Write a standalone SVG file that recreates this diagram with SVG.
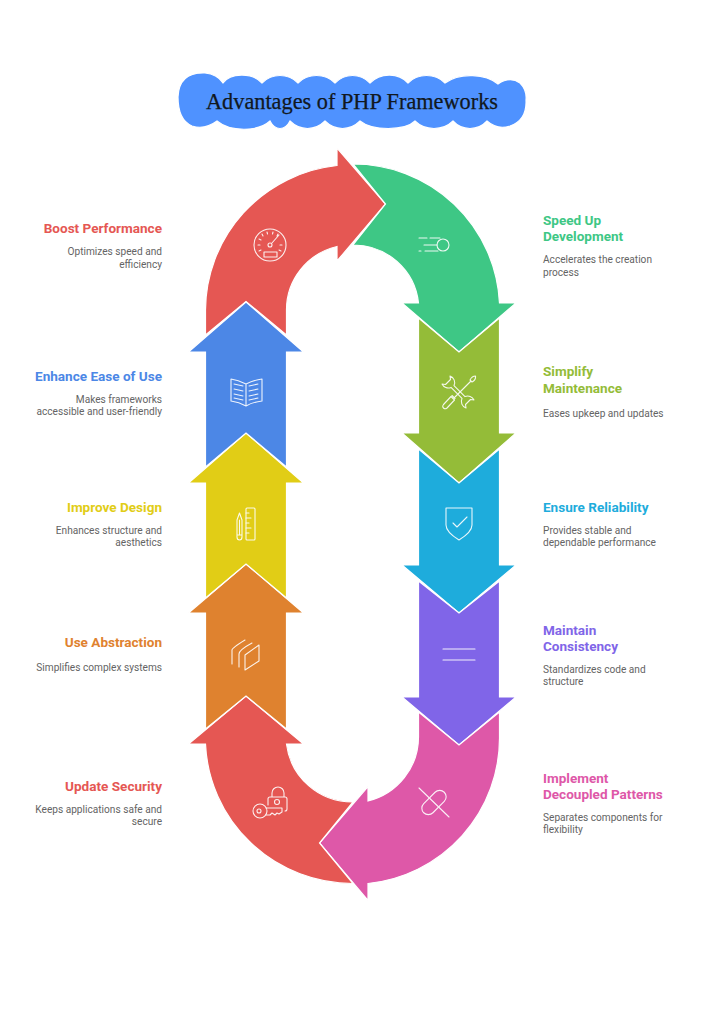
<svg xmlns="http://www.w3.org/2000/svg" width="705" height="1024" viewBox="0 0 705 1024">
<style>
text{font-family:Roboto,"Liberation Sans",sans-serif}
.t{font-family:"Liberation Serif",serif;font-size:23px;fill:#111820;stroke:#111820;stroke-width:.25;text-anchor:middle}
.h{font-size:13.55px;font-weight:700}
.d{font-size:10.15px;fill:#646464}
.l{text-anchor:end}
.s{stroke:#fff;stroke-width:1.2;stroke-linejoin:miter}
.i{fill:none;stroke:#fff;stroke-width:1.1;stroke-linecap:round;stroke-linejoin:round;opacity:.9}
</style>
<rect width="705" height="1024" fill="#fff"/>
<g id="title">
<path d="M178 97Q179 72 205 73Q217 74 223 83C230 73 252 72 262 83C272 73 288 73 298 83C308 73 325 73 335 83C345 73 360 73 370 83C380 73 398 72 408 83C418 73 435 73 445 83C460 72 486 74 498 84Q510 76 520 83Q527 90 526 100Q527 120 510 126Q497 130 487 121C478 131 462 131 453 121C443 131 425 131 415 121C405 131 372 131 360 121C350 131 335 131 325 121C315 131 300 131 290 121C285 131 275 131 270 121C258 132 230 132 217 121Q205 130 192 126Q178 120 178 97Z" fill="#4f92ff" stroke="#fff" stroke-width="1.2"/>
<text class="t" x="352" y="109" textLength="292" lengthAdjust="spacingAndGlyphs">Advantages of PHP Frameworks</text>
</g>
<g id="arrow-boost-performance">
<path class="s" fill="#e55753" d="M205.500 335V310A147.500 146 0 0 1 337 165.500V148L385.500 204L337 261V246.500A66 65 0 0 0 286.500 310V335L246 301.500Z"/>
<g class="i"><circle cx="270" cy="245" r="16"/><circle cx="270" cy="245" r="2"/><path d="M271.500 243.500L279 235M264 252h13v5h-13zM258 245h2M259 239l2 1M262 234l1 2M267 232l.5 2M273 232l-.5 2M278 234l-1 2M282 245h-2M281 251l-2-1M259 251l2-1"/></g>
</g>
<g id="arrow-speed-up">
<path class="s" fill="#3ec785" d="M353 164A146.500 146 0 0 1 499.500 303H516L459 352L402 303H418.500A65.500 65 0 0 0 353 245L385.500 204Z"/>
<g class="i"><circle cx="443" cy="245" r="6"/><path d="M419 238H427M430 238H440M424 245H437M419 251H421M425 251H438"/></g>
</g>
<g id="arrow-simplify">
<path class="s" fill="#94bc38" d="M418.500 318L459 352L499.500 318V433H516L459 483L402 433H418.500Z"/>
<g class="i"><path d="M450 376L450.500 379.500L445.500 384.500L442 384A7 7 0 0 0 451 387.400L462 398.400A7 7 0 0 0 466 408L465.500 404.500L470.500 399.500L474 400A7 7 0 0 0 465 396.600L454 385.600A7 7 0 0 0 450 376Z"/><path d="M475.500 376Q472 376 470 380L472 382Q476 380 475.500 376ZM471 381L455 397M452 395.500L455 398.500M451 396.500L454.500 400L447 408Q445 409.500 443.500 408Q442 406.500 443.500 404.500Z"/></g>
</g>
<g id="arrow-ensure-reliability">
<path class="s" fill="#1eacdc" d="M418.500 449L459 483L499.500 449V565H516L459 613L402 565H418.500Z"/>
<g class="i"><path d="M446 508H472V525Q472 532 459 540Q446 532 446 525Z"/><path d="M453 523L457 527L467 517"/></g>
</g>
<g id="arrow-maintain-consistency">
<path class="s" fill="#8065e8" d="M418.500 581L459 613L499.500 581V697H516L459 745L402 697H418.500Z"/>
<g class="i"><path d="M443 649H475M443 660H475"/></g>
</g>
<g id="arrow-decoupled">
<path class="s" fill="#de58a8" d="M418.500 712L459 745L499.500 712V737A146.500 146 0 0 1 368 883.500V900.500L319.500 843L368 786.500V801A66 66 0 0 0 418.500 737Z"/>
<g class="i"><path d="M419 788L449 817"/><rect x="-14.500" y="-6.500" width="29" height="13" rx="6.500" transform="translate(434 802.500) rotate(-45)"/></g>
</g>
<g id="arrow-update-security">
<path class="s" fill="#e55753" d="M353 883.500A147.500 146 0 0 1 205.500 744H188.500L246 696L303.500 744H286.500A66.500 66 0 0 0 353 802L319.500 843Z"/>
<g class="i"><path d="M272 797V793a6 6 0 0 1 12 0V797M268 805V799q0-2 2-2H285q2 0 2 2V809q0 2-2 2"/><circle cx="277" cy="802" r="2.500"/><circle cx="260" cy="811" r="7"/><circle cx="259" cy="811" r="2"/><path d="M266 808H282V812L279 814L277 813L275 815L272 813L270 815L266 815"/></g>
</g>
<g id="arrow-use-abstraction">
<path class="s" fill="#df822f" d="M205.500 729L246 696L286.500 729V613H303.500L246 564L188.500 613H205.500Z"/>
<g class="i"><path d="M245 655L259 645V661L245 670Z"/><path d="M239 667V654Q239 650 252 643M232 664V650Q232 648 245 640"/></g>
</g>
<g id="arrow-improve-design">
<path class="s" fill="#e1cd16" d="M205.500 598L246 564L286.500 598V483H303.500L246 433L188.500 483H205.500Z"/>
<g class="i"><path d="M237 520L239.500 513L242 520V537Q242 540 239.500 540Q237 540 237 537ZM237 535H242M239.500 520V535"/><rect x="246" y="508" width="9" height="32" rx="1"/><path d="M246 513H249M246 518H251M246 523H249M246 528H251M246 533H249"/></g>
</g>
<g id="arrow-ease-of-use">
<path class="s" fill="#4c87e6" d="M205.500 467L246 433L286.500 467V352H303.500L246 302L188.500 352H205.500Z"/>
<g class="i"><path d="M246 384Q238 380 231 379V401Q239 402 246 406Q253 402 262 401V379Q254 380 246 384ZM246 384V406"/><path d="M234 384L243 386M234 389L243 391M234 394L243 396M234 398L243 400M258 384L249 386M258 389L249 391M258 394L249 396M258 398L249 400"/></g>
</g>
<g id="label-boost-performance"><text class="h l" x="162" y="233" fill="#e55753">Boost Performance</text><text class="d l" x="162" y="255">Optimizes speed and</text><text class="d l" x="162" y="268">efficiency</text></g>
<g id="label-ease-of-use"><text class="h l" x="162" y="381" fill="#4c87e6">Enhance Ease of Use</text><text class="d l" x="162" y="403">Makes frameworks</text><text class="d l" x="162" y="415">accessible and user-friendly</text></g>
<g id="label-improve-design"><text class="h l" x="162" y="512" fill="#e1cd16">Improve Design</text><text class="d l" x="162" y="534">Enhances structure and</text><text class="d l" x="162" y="546">aesthetics</text></g>
<g id="label-use-abstraction"><text class="h l" x="162" y="647" fill="#df822f">Use Abstraction</text><text class="d l" x="162" y="671">Simplifies complex systems</text></g>
<g id="label-update-security"><text class="h l" x="162" y="791" fill="#e55753">Update Security</text><text class="d l" x="162" y="813">Keeps applications safe and</text><text class="d l" x="162" y="825">secure</text></g>
<g id="label-speed-up"><text class="h" x="543" y="225" fill="#3ec785">Speed Up</text><text class="h" x="543" y="241" fill="#3ec785">Development</text><text class="d" x="543" y="263">Accelerates the creation</text><text class="d" x="543" y="276">process</text></g>
<g id="label-simplify"><text class="h" x="543" y="376" fill="#94bc38">Simplify</text><text class="h" x="543" y="393" fill="#94bc38">Maintenance</text><text class="d" x="543" y="417">Eases upkeep and updates</text></g>
<g id="label-ensure-reliability"><text class="h" x="543" y="512" fill="#1eacdc">Ensure Reliability</text><text class="d" x="543" y="534">Provides stable and</text><text class="d" x="543" y="546">dependable performance</text></g>
<g id="label-maintain-consistency"><text class="h" x="543" y="635" fill="#8065e8">Maintain</text><text class="h" x="543" y="651" fill="#8065e8">Consistency</text><text class="d" x="543" y="673">Standardizes code and</text><text class="d" x="543" y="685">structure</text></g>
<g id="label-decoupled"><text class="h" x="543" y="783" fill="#de58a8">Implement</text><text class="h" x="543" y="799" fill="#de58a8">Decoupled Patterns</text><text class="d" x="543" y="821">Separates components for</text><text class="d" x="543" y="833">flexibility</text></g>
</svg>
